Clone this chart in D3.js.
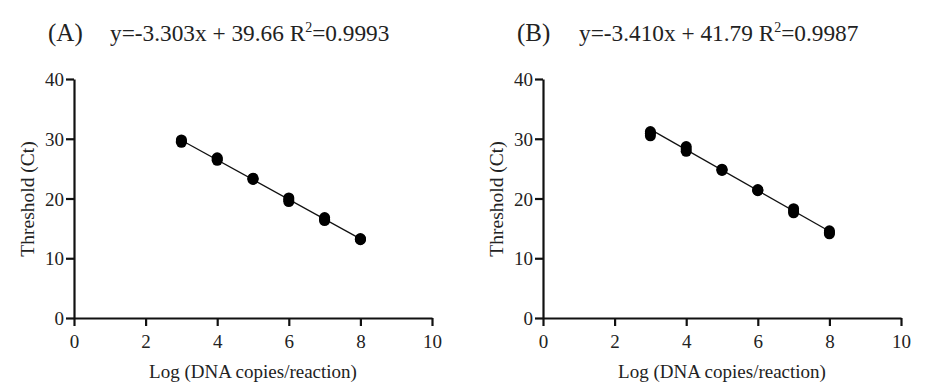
<!DOCTYPE html>
<html>
<head>
<meta charset="utf-8">
<script src="https://cdn.jsdelivr.net/npm/d3@7"></script>
<style>
  body { margin: 0; background: #fff; }
  text { font-family: "Liberation Serif", "Times New Roman", serif; fill: #222; }
  .tick text { font-size: 19px !important; font-family: "Liberation Serif", serif !important; }
</style>
</head>
<body>
<div id="chart"></div>
<script>
// Panel labels and fitted equations
var panelLabels = ["(A)", "(B)"];
var slopes = [-3.303, -3.410];
var intercepts = [39.66, 41.79];
var r2Values = ["0.9993", "0.9987"];

// Log copies (x) and replicate Ct values (y)
var logCopies = [3, 4, 5, 6, 7, 8];
var ctA = [
  [29.4, 29.8, 29.6], [26.4, 26.8, 26.6], [23.2, 23.4, 23.3],
  [19.5, 20.1, 19.8], [16.3, 16.8, 16.5], [13.1, 13.3, 13.2]
];
var ctB = [
  [31.2, 30.5, 30.9], [28.7, 27.9, 28.3], [24.7, 24.9, 24.8],
  [21.3, 21.5, 21.4], [18.3, 17.6, 17.9], [14.6, 14.1, 14.3]
];
var xTicks = [0, 2, 4, 6, 8, 10];
var yTicks = [0, 10, 20, 30, 40];

var svg = d3.select("#chart").append("svg")
  .attr("width", 926).attr("height", 385);

var panels = [
  {data: ctA, left: 74},
  {data: ctB, left: 543}
];

panels.forEach(function(p, i) {
  var x = d3.scaleLinear().domain([0, 10]).range([p.left, p.left + 358]);
  var y = d3.scaleLinear().domain([0, 40]).range([318, 79]);

  var g = svg.append("g");

  // title + equation
  g.append("text")
    .attr("x", p.left - 26).attr("y", 41)
    .style("font-size", "25px")
    .text(panelLabels[i]);
  var eq = g.append("text")
    .attr("x", p.left + 36).attr("y", 41)
    .style("font-size", "23.3px");
  eq.append("tspan").text("y=" + slopes[i].toFixed(3) + "x + " + intercepts[i].toFixed(2) + " R");
  eq.append("tspan").attr("dy", -9).style("font-size", "14px").text("2");
  eq.append("tspan").attr("dy", 9).text("=" + r2Values[i]);

  // axes
  var xAxis = g.append("g")
    .attr("transform", "translate(0,318)")
    .call(d3.axisBottom(x).tickValues(xTicks).tickSize(8).tickSizeOuter(0));
  var yAxis = g.append("g")
    .attr("transform", "translate(" + p.left + ",0)")
    .call(d3.axisLeft(y).tickValues(yTicks).tickSize(8).tickSizeOuter(0));

  [xAxis, yAxis].forEach(function(a) {
    a.attr("font-size", null).attr("font-family", null);
    a.select(".domain").attr("stroke", "#111").attr("stroke-width", 2.2);
    a.selectAll(".tick line").attr("stroke", "#111").attr("stroke-width", 2.2);
    a.selectAll(".tick text")
      .attr("fill", "#222")
      .attr("font-size", 19);
  });
  xAxis.selectAll(".tick text").attr("y", 16).attr("dy", "0.75em");
  yAxis.selectAll(".tick text").attr("x", -10).attr("dy", "0.35em");

  // axis labels
  g.append("text")
    .attr("x", p.left + 179).attr("y", 378)
    .attr("text-anchor", "middle")
    .style("font-size", "19px")
    .text("Log (DNA copies/reaction)");
  g.append("text")
    .attr("transform", "translate(" + (p.left - 47) + "," + 199 + ") rotate(-90)")
    .attr("text-anchor", "middle")
    .attr("dy", "0.35em")
    .style("font-size", "19.5px")
    .text("Threshold (Ct)");

  // regression line
  var fit = function(v) { return slopes[i] * v + intercepts[i]; };
  g.append("line")
    .attr("x1", x(logCopies[0])).attr("y1", y(fit(logCopies[0])))
    .attr("x2", x(logCopies[logCopies.length - 1])).attr("y2", y(fit(logCopies[logCopies.length - 1])))
    .attr("stroke", "#111").attr("stroke-width", 1.3);

  // points
  var pts = [];
  logCopies.forEach(function(lc, k) {
    p.data[k].forEach(function(ct) { pts.push({x: lc, y: ct}); });
  });
  g.selectAll("ellipse").data(pts).enter().append("ellipse")
    .attr("cx", function(d) { return x(d.x); })
    .attr("cy", function(d) { return y(d.y); })
    .attr("rx", 5.5).attr("ry", 5.5)
    .attr("fill", "#000");
});
</script>
</body>
</html>
